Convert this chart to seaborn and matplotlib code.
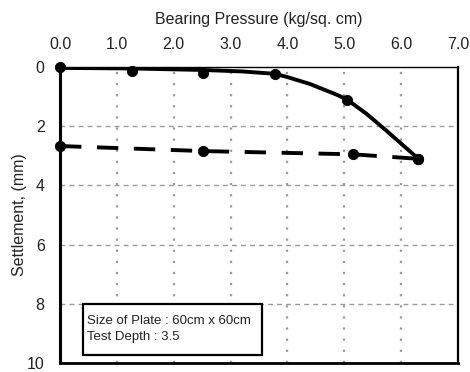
import numpy as np
import pandas as pd
import matplotlib
matplotlib.use("Agg")
import matplotlib.pyplot as plt
from matplotlib.patches import Rectangle
import seaborn as sns

# loading test points
load_pressure = [0.0, 1.26, 2.51, 3.78, 5.04, 6.29]
load_settle = [0.0, 0.12, 0.19, 0.24, 1.1, 3.1]
# smoothed loading curve
curve_pressure = [0.0, 1.26, 2.51, 3.2, 3.78, 3.98, 4.39, 4.69, 4.86, 5.04, 5.39, 5.74, 6.03, 6.29]
curve_settle = [0.03, 0.05, 0.1, 0.15, 0.23, 0.33, 0.57, 0.8, 0.93, 1.09, 1.58, 2.15, 2.64, 3.08]
# unloading curve
unload_pressure = [0.0, 2.51, 5.15, 6.29]
unload_settle = [2.67, 2.84, 2.95, 3.1]

x_ticks = [0, 1, 2, 3, 4, 5, 6, 7]
y_ticks = [0, 2, 4, 6, 8, 10]

sns.set_style("white")
plt.rcParams['font.family'] = ['Liberation Sans', 'DejaVu Sans']

fig = plt.figure(figsize=(4.7, 3.72), dpi=100)
ax = fig.add_axes([0.1277, 0.0242, 0.8468, 0.7957])

df_curve = pd.DataFrame({'p': curve_pressure, 's': curve_settle})
df_load = pd.DataFrame({'p': load_pressure, 's': load_settle})
df_unload = pd.DataFrame({'p': unload_pressure, 's': unload_settle})

sns.lineplot(data=df_curve, x='p', y='s', ax=ax, color='black', linewidth=2.8,
             sort=False, zorder=3)
sns.lineplot(data=df_unload, x='p', y='s', ax=ax, color='black', linewidth=2.8,
             sort=False, zorder=3)
ax.lines[-1].set_dashes([5.5, 4])
ax.lines[0].set_solid_joinstyle('round')
sns.scatterplot(data=df_load, x='p', y='s', ax=ax, color='black', s=55,
                edgecolor='black', zorder=4, clip_on=False)
sns.scatterplot(data=df_unload, x='p', y='s', ax=ax, color='black', s=55,
                edgecolor='black', zorder=4, clip_on=False)

ax.set_xlim(0, 7)
ax.set_ylim(10, 0)
ax.set_xticks(x_ticks)
ax.set_xticklabels([f"{v:.1f}" for v in x_ticks])
ax.set_yticks(y_ticks)
ax.xaxis.tick_top()
ax.xaxis.set_label_position('top')
ax.tick_params(axis='x', length=0, labelsize=11.5, pad=11, colors='#222222')
ax.tick_params(axis='y', length=0, labelsize=11.5, pad=11, colors='#222222')
ax.set_xlabel('Bearing Pressure (kg/sq. cm)', fontsize=11.5, labelpad=9, color='#222222')
ax.set_ylabel('Settlement, (mm)', fontsize=11.5, labelpad=0, color='#222222')

for x in x_ticks[1:-1]:
    ax.axvline(x, color='#9a9a9a', linestyle=(0, (1, 4)), linewidth=1.6, zorder=1)
for y in y_ticks[1:-1]:
    ax.axhline(y, color='#9a9a9a', linestyle=(0, (3.5, 3)), linewidth=1.0, zorder=1)

ax.spines['top'].set_linewidth(1.0)
ax.spines['right'].set_linewidth(1.6)
ax.spines['left'].set_linewidth(2.2)
ax.spines['bottom'].set_linewidth(2.0)
for side in ['top', 'right', 'bottom', 'left']:
    ax.spines[side].set_color('black')

ax.add_patch(Rectangle((0.40, 8.0), 3.15, 1.73, facecolor='white', edgecolor='black',
                       linewidth=1.6, zorder=4))
ax.text(0.47, 8.58, "Size of Plate : 60cm x 60cm", fontsize=9.5, va='center', ha='left',
        color='#222222', zorder=5)
ax.text(0.47, 9.12, "Test Depth : 3.5", fontsize=9.5, va='center', ha='left',
        color='#222222', zorder=5)

fig.savefig('out.png', dpi=100)
